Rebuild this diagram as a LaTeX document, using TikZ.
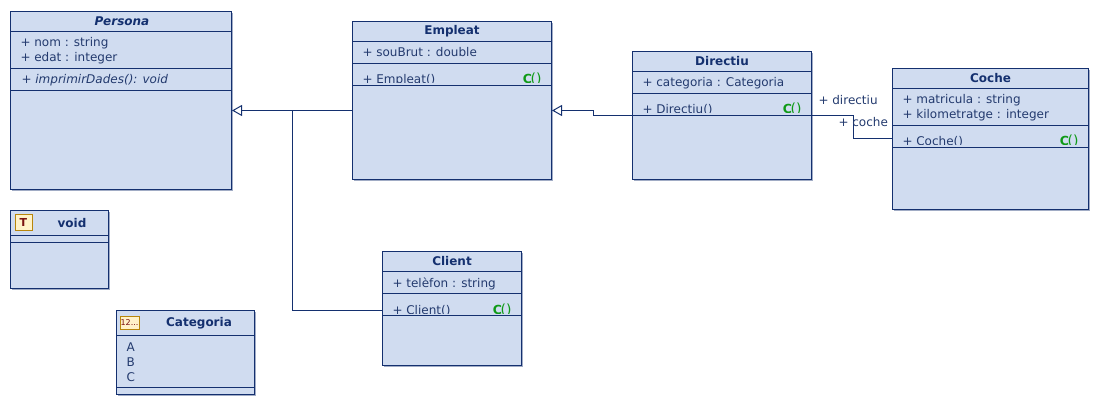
\documentclass[tikz,border=0pt]{standalone}
\usepackage{fontspec}
\setmainfont{DejaVu Sans}
\usetikzlibrary{arrows.meta,shadows}
\definecolor{umlfill}{HTML}{D0DCF0}
\definecolor{umlline}{HTML}{14306F}
\definecolor{umltext}{HTML}{233A6E}
\definecolor{umlgreen}{HTML}{0F9A17}
\definecolor{iconfill}{HTML}{FFF2C8}
\definecolor{iconline}{HTML}{B8860B}
\definecolor{icontext}{HTML}{7A1010}
\newcommand{\umlsize}{\fontsize{12}{14}\selectfont}
\newcommand{\ctorlabel}{{\fontsize{12.5}{14}\selectfont\bfseries C}\hspace{-1.5pt}{\fontsize{14}{14}\selectfont()}}
\tikzset{
  classbox/.style={draw=umlline,fill=umlfill,line width=1pt,inner sep=0pt,
    drop shadow={shadow xshift=1.5pt,shadow yshift=-1.5pt,fill=umlline,opacity=.4}},
  titletext/.style={inner sep=0pt,text=umlline,font=\umlsize\bfseries},
  membertext/.style={inner sep=0pt,anchor=base west,text=umltext,font=\umlsize},
  ctortext/.style={inner sep=0pt,anchor=base east,text=umlgreen,font=\umlsize},
  iconbox/.style={draw=iconline,fill=iconfill,line width=1pt,inner sep=0pt},
  generalize/.style={-{Triangle[open,fill=white,length=10pt,width=11pt]}}
}
\begin{document}
\begin{tikzpicture}[x=1pt,y=-1pt,line width=1pt,draw=umlline]
 \useasboundingbox (0,0) rectangle (1100,406);

 % boxes
 \node[classbox,minimum width=221pt,minimum height=178pt] (persona) at (121,100.5) {};
 \node[classbox,minimum width=199pt,minimum height=158pt] (empleat) at (452,100.5) {};
 \node[classbox,minimum width=179pt,minimum height=128pt] (directiu) at (722,115.5) {};
 \node[classbox,minimum width=196pt,minimum height=141pt] (coche) at (990.5,139) {};
 \node[classbox,minimum width=139pt,minimum height=114pt] (client) at (452,308.5) {};
 \node[classbox,minimum width=98pt,minimum height=78pt] (void) at (59.5,249.5) {};
 \node[classbox,minimum width=138pt,minimum height=84pt] (categoria) at (185.5,352.5) {};

 % separators
 \foreach \cls/\y in {persona/31.5,persona/68.5,persona/90.5,empleat/41.5,empleat/63.5,empleat/85.5,
   directiu/71.5,directiu/93.5,directiu/115.5,coche/88.5,coche/125.5,coche/147.5,
   client/271.5,client/293.5,client/315.5,void/235.5,void/242.5,categoria/335.5,categoria/387.5}
 \draw (\cls.west |- 0,\y) -- (\cls.east |- 0,\y);

 % titles
 \node[titletext,font=\umlsize\bfseries\itshape] (tpersona) at (122,21) {Persona};
 \node[titletext] (templeat) at (452,31) {Empleat};
 \node[titletext] (tdirectiu) at (722,61) {Directiu};
 \node[titletext] (tcoche) at (990.5,78) {Coche};
 \node[titletext] (tclient) at (452,261) {Client};
 \node[titletext] (tvoid) at (72,223) {void};
 \node[titletext] (tcategoria) at (199,323) {Categoria};

 % members
 \node[membertext] (mnom) at (20,47) {+ nom : string};
 \node[membertext] (medat) at (20,62) {+ edat : integer};
 \node[membertext,font=\umlsize\itshape] (mimprimir) at (21,84) {+ imprimirDades(): void};
 \node[membertext] (msou) at (362,57) {+ souBrut : double};
 \node[membertext] (mcategoria) at (642,87) {+ categoria : Categoria};
 \node[membertext] (mmatricula) at (902,104) {+ matricula : string};
 \node[membertext] (mkm) at (902,119) {+ kilometratge : integer};
 \node[membertext] (mtel) at (392,287) {+ telèfon : string};
 \node[membertext] (ma) at (126,351) {A};
 \node[membertext] (mb) at (126,366) {B};
 \node[membertext] (mc) at (126,381) {C};

 % constructors, cut off by the line below them
 \begin{scope}
  \clip (352,64) rectangle (552,83);
  \node[membertext] (cempleat) at (362,84) {+ Empleat()};
  \node[ctortext] (gempleat) at (542,84) {\ctorlabel};
 \end{scope}
 \begin{scope}
  \clip (632,94) rectangle (812,113);
  \node[membertext] (cdirectiu) at (642,114) {+ Directiu()};
  \node[ctortext] (gdirectiu) at (802,114) {\ctorlabel};
 \end{scope}
 \begin{scope}
  \clip (892,126) rectangle (1088,145);
  \node[membertext] (ccoche) at (902,146) {+ Coche()};
  \node[ctortext] (gcoche) at (1079,146) {\ctorlabel};
 \end{scope}
 \begin{scope}
  \clip (382,294) rectangle (522,313);
  \node[membertext] (cclient) at (392,314) {+ Client()};
  \node[ctortext] (gclient) at (512,314) {\ctorlabel};
 \end{scope}

 % icons
 \node[iconbox,minimum width=17pt,minimum height=16pt,text=icontext,
   font=\fontsize{11}{12}\selectfont\bfseries] (itype) at (23.5,222.5) {T};
 \node[iconbox,minimum width=19pt,minimum height=13pt,text=icontext,
   font=\fontsize{8}{10}\selectfont] (ienum) at (129.5,323) {12...};

 % connectors
 \draw[generalize] ([yshift=-10pt]empleat.west) -- ([yshift=-10pt]persona.east);
 \coordinate (jclient) at (292.5,110.5);
 \draw ([yshift=-2pt]client.west) -| (jclient);
 \draw[generalize] (directiu.west) -| (593.5,110.5) -- ([yshift=-10pt]empleat.east);
 \draw (directiu.east) -| (853.5,138.5) -- ([yshift=.5pt]coche.west);

 % association ends
 \node[membertext] (ldirectiu) at (818,105) {+ directiu};
 \node[membertext] (lcoche) at (838,127) {+ coche};
\end{tikzpicture}
\end{document}
